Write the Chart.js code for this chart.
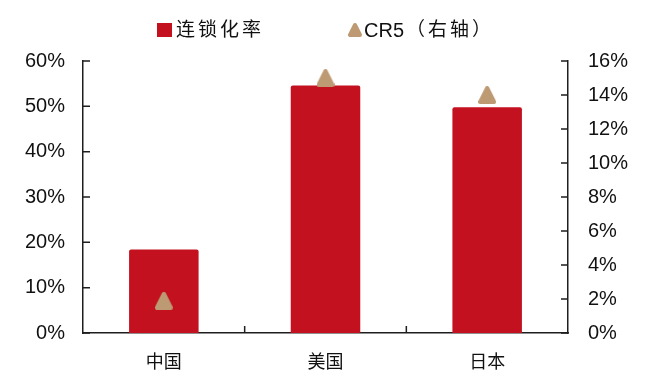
<!DOCTYPE html>
<html>
<head>
<meta charset="utf-8">
<script src="https://cdn.jsdelivr.net/npm/chart.js@4/dist/chart.umd.min.js"></script>
<style>
  html, body { margin: 0; padding: 0; background: #fff; }
</style>
</head>
<body>
<canvas id="myChart" width="660" height="389"></canvas>
<script>
var countries = ["中国", "美国", "日本"];
var chainRate = [18.4, 54.6, 49.8];   // 连锁化率, left axis %
var cr5 = [1.9, 15.0, 14.0];          // CR5, right axis %
var seriesNames = ["连锁化率", "CR5（右轴）"];

var barColor = "#C41120";
var markColor = "#BD9A73";
var axisColor = "#1e1e1e";
var numFont = "'Liberation Sans', Arial, 'Noto Sans CJK SC', sans-serif";

// rounded triangle used as point marker
function makeTriangle(w, h, color) {
    var c = document.createElement('canvas');
    c.width = w + 4;
    c.height = h + 4;
    var ctx = c.getContext('2d');
    ctx.fillStyle = color;
    ctx.strokeStyle = color;
    ctx.lineWidth = 4;
    ctx.lineJoin = 'round';
    ctx.beginPath();
    ctx.moveTo(c.width / 2, 2);
    ctx.lineTo(2, h + 2);
    ctx.lineTo(w + 2, h + 2);
    ctx.closePath();
    ctx.fill();
    ctx.stroke();
    return c;
}
var triMark = makeTriangle(14, 14, markColor);
var triLegend = makeTriangle(10, 10, markColor);

// short inward tick marks on all three axes
var innerTicks = {
    id: 'innerTicks',
    afterDatasetsDraw: function (chart) {
        var ctx = chart.ctx;
        var area = chart.chartArea;
        var y = chart.scales.y, y1 = chart.scales.y1, x = chart.scales.x;
        var len = 7;
        ctx.save();
        ctx.strokeStyle = axisColor;
        ctx.lineWidth = 1.5;
        ctx.beginPath();
        for (var i = 0; i < y.ticks.length; i++) {
            var py = y.getPixelForTick(i);
            ctx.moveTo(area.left, py);
            ctx.lineTo(area.left + len, py);
        }
        for (var j = 0; j < y1.ticks.length; j++) {
            var py1 = y1.getPixelForTick(j);
            ctx.moveTo(area.right, py1);
            ctx.lineTo(area.right - len, py1);
        }
        for (var k = 1; k < x.ticks.length; k++) {
            var px = (x.getPixelForTick(k - 1) + x.getPixelForTick(k)) / 2;
            ctx.moveTo(px, area.bottom);
            ctx.lineTo(px, area.bottom - len);
        }
        ctx.stroke();
        ctx.restore();
    }
};

// latin runs drawn tight, CJK runs with extra spacing
function spacedText(ctx, text, x, y, draw) {
    var parts = text.match(/[A-Za-z0-9]+|[^A-Za-z0-9]+/g);
    var w = 0;
    for (var i = 0; i < parts.length; i++) {
        var latin = /^[A-Za-z0-9]/.test(parts[i]);
        ctx.font = (latin ? "20px " : "19px ") + numFont;
        ctx.letterSpacing = latin ? '0px' : '3px';
        if (draw) ctx.fillText(parts[i], x + w, y);
        w += ctx.measureText(parts[i]).width + (latin ? 2 : 0);
    }
    return w;
}

// legend row centred over the plot
var topLegend = {
    id: 'topLegend',
    afterDraw: function (chart) {
        var ctx = chart.ctx;
        var area = chart.chartArea;
        var cy = 31;
        ctx.save();
        ctx.textBaseline = 'middle';
        var w0 = spacedText(ctx, seriesNames[0], 0, 0, false);
        var w1 = spacedText(ctx, seriesNames[1], 0, 0, false);
        var gap = 84;
        var total = 15 + 4 + w0 + gap + 14 + 2 + w1;
        var x0 = (area.left + area.right) / 2 - total / 2;
        ctx.fillStyle = barColor;
        ctx.fillRect(x0, cy - 8, 15, 14);
        ctx.fillStyle = '#111';
        spacedText(ctx, seriesNames[0], x0 + 19, cy, true);
        var x1 = x0 + 19 + w0 + gap;
        ctx.drawImage(triLegend, x1, cy - 8);
        spacedText(ctx, seriesNames[1], x1 + 16, cy, true);
        ctx.restore();
    }
};

new Chart("myChart", {
    type: "bar",
    data: {
        labels: countries,
        datasets: [{
            label: seriesNames[0],
            data: chainRate,
            backgroundColor: barColor,
            borderRadius: 2,
            borderSkipped: 'bottom',
            categoryPercentage: 1,
            barPercentage: 0.43,
            yAxisID: 'y',
            order: 2
        }, {
            type: 'line',
            label: seriesNames[1],
            data: cr5,
            showLine: false,
            pointStyle: triMark,
            backgroundColor: markColor,
            borderColor: markColor,
            yAxisID: 'y1',
            order: 1
        }]
    },
    options: {
        responsive: false,
        animation: false,
        devicePixelRatio: 1,
        layout: { padding: { top: 61, left: 0, right: 0, bottom: 0 } },
        plugins: {
            legend: { display: false },
            tooltip: { enabled: false }
        },
        scales: {
            x: {
                grid: { display: false, drawTicks: false },
                border: { display: true, color: axisColor, width: 1.5 },
                ticks: {
                    color: '#111',
                    padding: 17,
                    maxRotation: 0,
                    font: { family: "'Noto Sans CJK SC', sans-serif", size: 18 }
                },
                afterFit: function (scale) { scale.height = 56; }
            },
            y: {
                position: 'left',
                min: 0,
                max: 60,
                grid: { display: false, drawTicks: false },
                border: { display: true, color: axisColor, width: 1.5 },
                ticks: {
                    stepSize: 10,
                    color: '#111',
                    padding: 18,
                    font: { family: numFont, size: 20 },
                    callback: function (v) { return v + '%'; }
                },
                afterFit: function (scale) { scale.width = 83; }
            },
            y1: {
                position: 'right',
                min: 0,
                max: 16,
                grid: { display: false, drawTicks: false },
                border: { display: true, color: axisColor, width: 1.5 },
                ticks: {
                    stepSize: 2,
                    color: '#111',
                    padding: 20,
                    font: { family: numFont, size: 20 },
                    callback: function (v) { return v + '%'; }
                },
                afterFit: function (scale) { scale.width = 92; }
            }
        }
    },
    plugins: [innerTicks, topLegend]
});
</script>
</body>
</html>
